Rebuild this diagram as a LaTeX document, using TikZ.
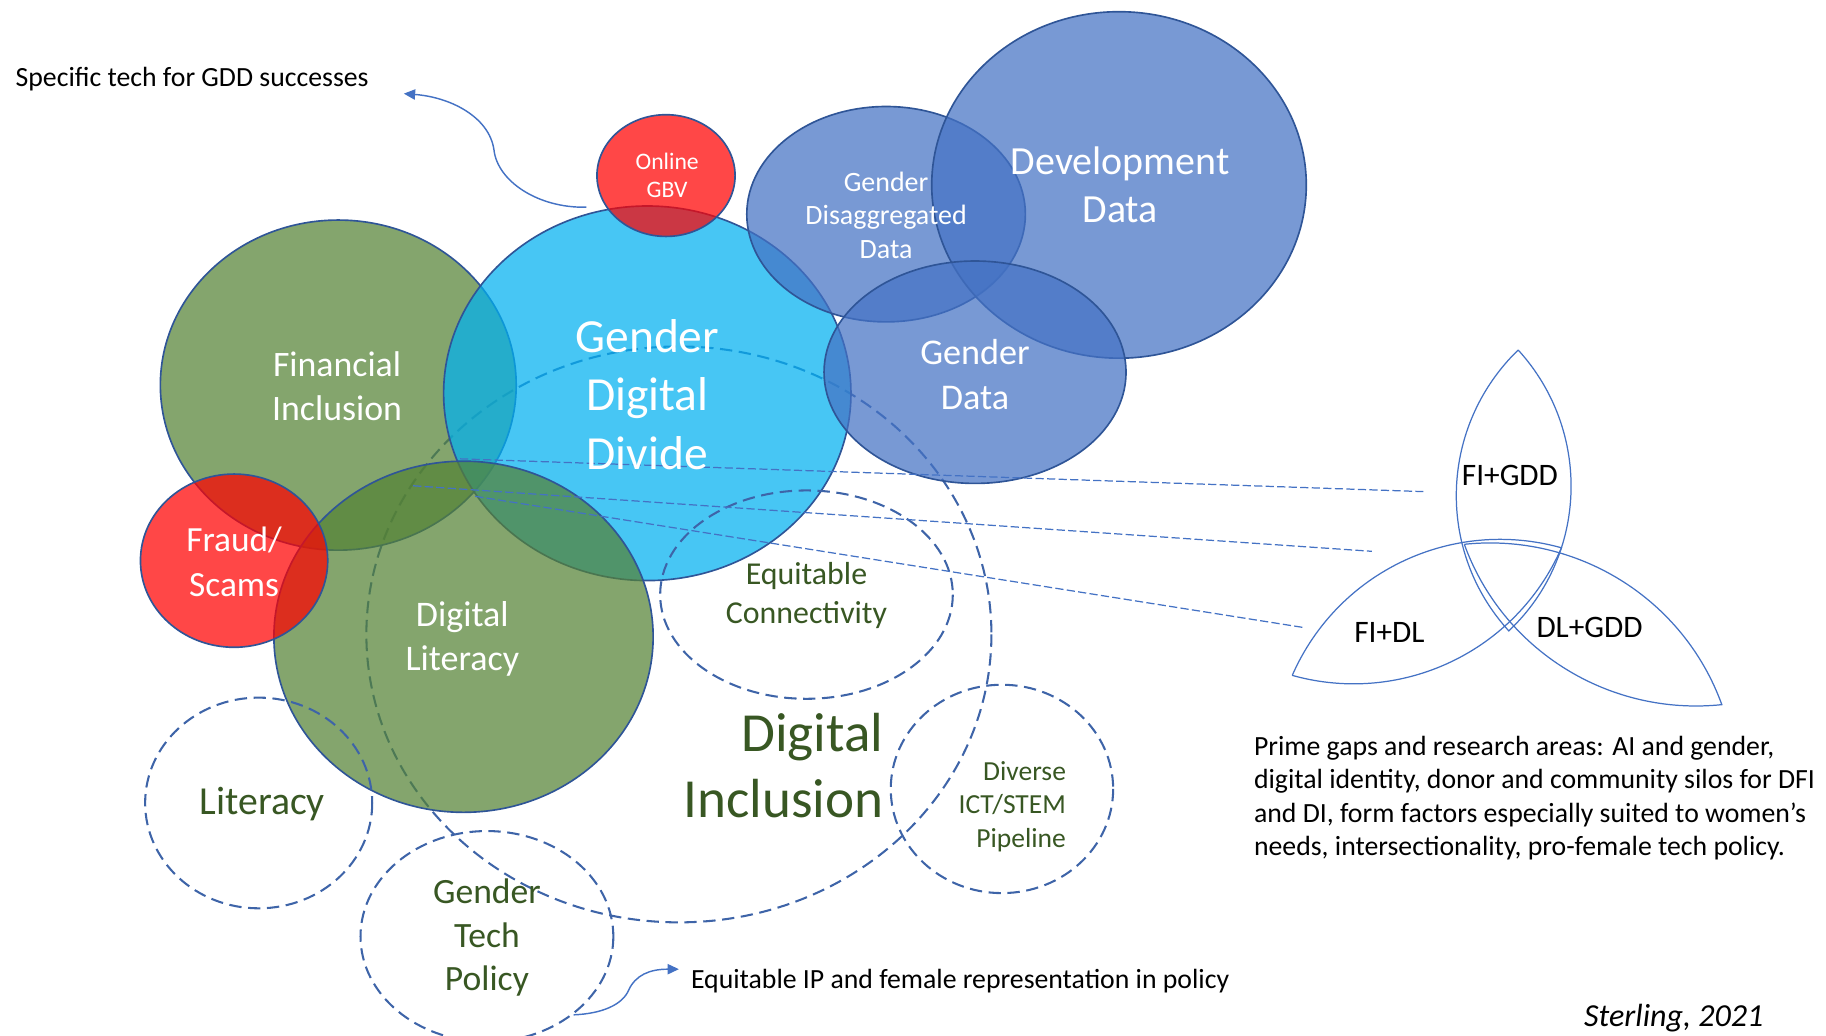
\documentclass[tikz,border=0pt]{standalone}
\usepackage{fontspec}
\setmainfont{Carlito}
\usetikzlibrary{arrows.meta}
\definecolor{gddcyan}{HTML}{00B0F0}
\definecolor{accblue}{HTML}{4472C4}
\definecolor{edgeblue}{HTML}{2F5597}
\definecolor{dashblue}{HTML}{3E64A8}
\definecolor{figreen}{HTML}{548235}
\definecolor{dkgreen}{HTML}{385723}
\definecolor{alertred}{HTML}{FF0000}
\newcommand{\fsz}[2]{\fontsize{#1}{#2}\selectfont}
\tikzset{blob/.style={fill=#1,fill opacity=0.72,draw=edgeblue,line width=0.8pt}}
\tikzset{dashc/.style={draw=dashblue,line width=1pt,dash pattern=on 6pt off 3.2pt}}
\tikzset{link/.style={draw=accblue,line width=0.6pt,dash pattern=on 4pt off 1.6pt}}
\tikzset{tref/.style={draw=accblue,line width=0.6pt}}
\tikzset{curly/.style={draw=accblue,line width=0.7pt,-{Triangle[length=5.5pt,width=5pt]}}}
\tikzset{wlab/.style={text=white,align=center,inner sep=0pt}}
\tikzset{glab/.style={text=dkgreen,align=center,inner sep=0pt}}
\tikzset{blab/.style={text=black,inner sep=0pt}}

\begin{document}
\begin{tikzpicture}[x=0.02cm,y=-0.02cm]
      \useasboundingbox (0,0) rectangle (1560,885);

      \draw[dashc] (580,542) ellipse [x radius=267,y radius=246];

      \draw[blob=figreen] (289,329) ellipse [x radius=152,y radius=141];
      \draw[blob=gddcyan] (553,336) ellipse [x radius=174,y radius=160];
      \draw[blob=figreen] (396,544) ellipse [x radius=162,y radius=150];
      \draw[blob=alertred] (200,479) ellipse [x radius=80,y radius=74];
      \draw[blob=alertred] (569,150) ellipse [x radius=59,y radius=52];
      \draw[blob=accblue] (757,183) ellipse [x radius=119,y radius=92];
      \draw[blob=accblue] (956,158) ellipse [x radius=160,y radius=148];
      \draw[blob=accblue] (833,318) ellipse [x radius=129,y radius=95];

      \draw[dashc] (689,508) ellipse [x radius=125,y radius=89];
      \draw[dashc] (856,674) ellipse [x radius=95,y radius=89];
      \draw[dashc] (221,686) ellipse [x radius=97,y radius=90];
      \draw[dashc] (416,800) ellipse [x radius=108,y radius=90];

      \coordinate (ta) at (1297,299);
      \coordinate (tb) at (1289,539);
      \coordinate (la) at (1104,577);
      \coordinate (lb) at (1334,468);
      \coordinate (ra) at (1251,465);
      \coordinate (rb) at (1471,602);
      \draw[tref] (ta) .. controls (1360,368) and (1357,475) .. (tb)
                  .. controls (1226,470) and (1230,364) .. (ta);
      \draw[tref] (la) .. controls (1197,603) and (1295,557) .. (lb)
                  .. controls (1241,442) and (1143,488) .. (la);
      \draw[tref] (ra) .. controls (1284,556) and (1375,612) .. (rb)
                  .. controls (1438,511) and (1347,455) .. (ra);

      \coordinate (l1a) at (393,392);
      \coordinate (l1b) at (1216,420);
      \coordinate (l2a) at (353,415);
      \coordinate (l2b) at (1172,471);
      \coordinate (l3a) at (406,424);
      \coordinate (l3b) at (1113,536);
      \draw[link] (l1a) -- (l1b);
      \draw[link] (l2a) -- (l2b);
      \draw[link] (l3a) -- (l3b);

      \node[wlab,font=\fsz{11.5}{13.7}] (gbv) at (570,150) {Online\\GBV};
      \node[wlab,font=\fsz{13.6}{16.2}] (gdis) at (757,184) {Gender\\Disaggregated\\Data};
      \node[wlab,font=\fsz{19.4}{23.3}] (dev) at (957,158) {Development\\Data};
      \node[wlab,font=\fsz{23.1}{28.5}] (gdd) at (553,337) {Gender\\Digital\\Divide};
      \node[wlab,font=\fsz{17.6}{21.6}] (gdat) at (833,320) {Gender\\Data};
      \node[wlab,font=\fsz{17.4}{21.6}] (fin) at (288,330) {Financial\\Inclusion};
      \node[wlab,font=\fsz{17.2}{21.6}] (fraud) at (200,480) {Fraud/\\Scams};
      \node[wlab,font=\fsz{17.5}{21.6}] (dlit) at (395,546) {Digital\\Literacy};

      \node[glab,font=\fsz{15.5}{18.8}] (eqc) at (689,509) {Equitable\\Connectivity};
      \node[glab,align=right,anchor=east,font=\fsz{26.8}{31.9}] (dinc) at (755,654) {Digital\\Inclusion};
      \node[glab,font=\fsz{19.3}{23}] (lit) at (224,687) {Literacy};
      \node[glab,font=\fsz{17.3}{21}] (gtp) at (416,801) {Gender\\Tech\\Policy};
      \node[glab,align=right,anchor=east,font=\fsz{13.4}{16.2}] (ict) at (911,689) {Diverse\\ICT/STEM\\Pipeline};

      \node[blab,font=\fsz{15.2}{18}] (figdd) at (1290,406) {FI+GDD};
      \node[blab,font=\fsz{15.2}{18}] (fidl) at (1187,540) {FI+DL};
      \node[blab,font=\fsz{15.2}{18}] (dlgdd) at (1358,536) {DL+GDD};

      \node[blab,anchor=west,font=\fsz{13.5}{16.3}] (spec) at (13,68) {Specific tech for GDD successes};
      \node[blab,anchor=west,font=\fsz{13.5}{16.3}] (eqip) at (590,838) {Equitable IP and female representation in policy};
      \node[blab,anchor=west,align=left,font=\fsz{13.5}{16.3}] (gaps) at (1071,682) {Prime gaps and research areas: AI and gender,\\digital identity, donor and community silos for DFI\\and DI, form factors especially suited to women’s\\needs, intersectionality, pro-female tech policy.};
      \node[blab,font=\fsz{15.6}{18}\itshape] (cite) at (1430,870) {Sterling, 2021};

      \coordinate (sga) at (501,177);
      \coordinate (sgb) at (345,80);
      \draw[curly] (sga) .. controls (460,178) and (425,155) .. (422,128) .. controls (418,100) and (385,83) .. (sgb);
      \coordinate (ipa) at (490,867);
      \coordinate (ipb) at (580,828);
      \draw[curly] (ipa) .. controls (515,866) and (532,858) .. (537,846) .. controls (543,833) and (555,828) .. (ipb);
\end{tikzpicture}
\end{document}
